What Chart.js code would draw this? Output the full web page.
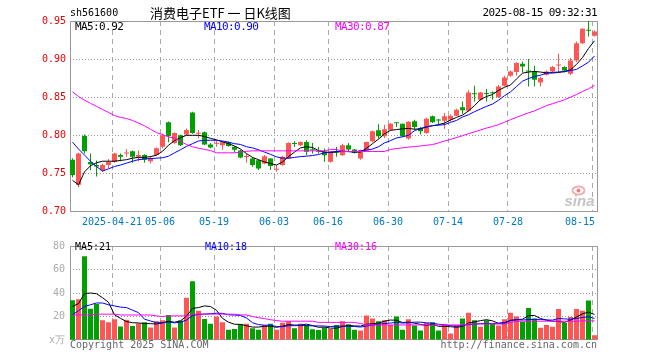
<!DOCTYPE html>
<html><head><meta charset="utf-8">
<script src="https://cdn.jsdelivr.net/npm/chart.js@4.4.1/dist/chart.umd.min.js"></script>
<style>
html,body{margin:0;padding:0;background:#fff;}
#wrap{position:relative;width:660px;height:360px;overflow:hidden;background:#fff;}
canvas{position:absolute;left:0;}
.t{position:absolute;white-space:pre;font-family:"DejaVu Sans Mono",monospace;font-size:10px;line-height:12px;color:#000;}
.m{font-size:11px;letter-spacing:-0.6px;line-height:13px;}
</style></head><body>
<div id="wrap">
<canvas id="k" width="660" height="235" style="top:0;width:660px;height:235px"></canvas>
<canvas id="v" width="660" height="125" style="top:235px;width:660px;height:125px"></canvas>
<div class="t" style="left:70px;top:7px;">sh561600</div>
<div class="t" style="left:150px;top:4px;font-family:'Noto Sans CJK SC',sans-serif;font-size:13px;line-height:17px;">消费电子ETF 一 日K线图</div>
<div class="t m" style="right:63px;top:6px;">2025-08-15 09:32:31</div>
<div class="t m" style="left:75px;top:19.5px;color:#000;">MA5:0.92</div>
<div class="t m" style="left:204px;top:19.5px;color:#0000ff;">MA10:0.90</div>
<div class="t m" style="left:335px;top:19.5px;color:#ff00ff;">MA30:0.87</div>
<div class="t" style="left:75px;top:240.5px;color:#000;">MA5:21</div>
<div class="t" style="left:205px;top:240.5px;color:#0000ff;">MA10:18</div>
<div class="t" style="left:335px;top:240.5px;color:#ff00ff;">MA30:16</div>
<div class="t" style="left:70px;top:339px;color:#666;">Copyright 2025 SINA.COM</div>
<div class="t" style="right:63px;top:339px;color:#666;">http://finance.sina.com.cn</div>
</div>
<script>
// ---------- data ----------
const tradeDays = ['04-10','04-11','04-14','04-15','04-16','04-17','04-18','04-21','04-22','04-23','04-24','04-25','04-28','04-29','04-30',
'05-06','05-07','05-08','05-09','05-12','05-13','05-14','05-15','05-16','05-19','05-20','05-21','05-22','05-23','05-26','05-27','05-28','05-29','05-30',
'06-03','06-04','06-05','06-06','06-09','06-10','06-11','06-12','06-13','06-16','06-17','06-18','06-19','06-20','06-23','06-24','06-25','06-26','06-27','06-30',
'07-01','07-02','07-03','07-04','07-07','07-08','07-09','07-10','07-11','07-14','07-15','07-16','07-17','07-18','07-21','07-22','07-23','07-24','07-25','07-28','07-29','07-30','07-31',
'08-01','08-04','08-05','08-06','08-07','08-08','08-11','08-12','08-13','08-14','08-15'];
const tickDays = ['04-21','05-06','05-19','06-03','06-16','06-30','07-14','07-28','08-15'];
const tickLabels = ['2025-04-21','05-06','05-19','06-03','06-16','06-30','07-14','07-28','08-15'];
const priceTicks = [0.70,0.75,0.80,0.85,0.90,0.95];
const volTicks = [0,20,40,60,80];

const openP = [.768,.735,.799,.765,.761,.754,.761,.765,.774,.776,.779,.772,.774,.766,.774,.785,.817,.790,.800,.801,
.830,.802,.804,.788,.789,.787,.791,.785,.780,.7715,.7696,.7674,.763,.7696,.7548,.7609,.7696,.7891,.787,.7913,
.7808,.7787,.7783,.7652,.7787,.7739,.787,.7813,.7696,.7804,.7922,.8065,.7987,.8074,.8162,.8153,.7957,.8183,.8096,.8030,
.8249,.8197,.8192,.8205,.8258,.8367,.8323,.8544,.8467,.8544,.8555,.8502,.8651,.8782,.8830,.8939,.8840,.8838,.8694,.8795,
.8838,.8915,.8895,.8808,.8983,.9209,.9378,.9305];
const highP = [.770,.777,.801,.776,.767,.763,.769,.777,.776,.782,.780,.780,.775,.773,.784,.802,.818,.804,.801,.809,
.831,.807,.805,.790,.793,.792,.792,.786,.781,.776,.771,.768,.774,.770,.7609,.773,.791,.7926,.792,.7935,
.790,.7848,.7826,.779,.7848,.789,.790,.782,.781,.792,.806,.8144,.8139,.816,.8165,.8155,.8183,.8205,.811,.823,
.826,.8214,.8293,.8275,.835,.8445,.859,.865,.857,.8607,.8576,.866,.878,.885,.896,.897,.900,.8913,.8773,.885,
.891,.907,.8905,.9013,.9231,.9406,.950,.9375];
const lowP = [.745,.732,.776,.754,.746,.752,.757,.764,.766,.772,.764,.766,.764,.763,.773,.783,.791,.789,.786,.799,
.802,.796,.787,.783,.785,.781,.785,.778,.770,.764,.7587,.7543,.762,.7543,.7522,.760,.769,.7848,.786,.7739,
.7761,.7761,.7652,.764,.7717,.773,.7783,.776,.768,.779,.791,.7957,.7965,.806,.8109,.798,.794,.8074,.8009,.802,
.816,.814,.8087,.818,.825,.828,.831,.8445,.845,.8445,.8467,.849,.864,.877,.8785,.8825,.8642,.8642,.8642,.8785,
.8825,.8817,.8825,.879,.8961,.9195,.9297,.9297];
const closeP = [.748,.776,.779,.762,.759,.761,.765,.776,.772,.777,.772,.774,.768,.770,.783,.800,.799,.803,.787,.807,
.803,.803,.788,.784,.790,.791,.786,.781,.771,.772,.7609,.7565,.7726,.7596,.7553,.7717,.790,.7887,.7913,.7783,
.7804,.7783,.7739,.7783,.7774,.787,.7813,.7769,.7804,.7913,.8052,.7987,.8078,.8152,.8157,.7987,.8178,.8109,.8052,.8218,
.8170,.8193,.8249,.8258,.8336,.8328,.8563,.854,.8563,.8541,.8552,.8642,.876,.8838,.8948,.8904,.8838,.8729,.8751,.8838,
.8895,.8917,.8852,.8983,.9209,.9397,.9372,.9362];
const ma5P = [.741,.735,.752,.760,.764,.766,.766,.766,.767,.768,.770,.771,.771,.772,.774,.779,.787,.793,.797,.800,
.800,.800,.7985,.796,.794,.7915,.789,.786,.782,.776,.771,.768,.765,.763,.761,.765,.772,.778,.7835,.785,
.784,.780,.778,.7775,.778,.779,.779,.778,.778,.783,.789,.795,.802,.8065,.8075,.8085,.809,.808,.8085,.811,
.8125,.814,.816,.820,.8235,.8265,.832,.839,.847,.851,.8535,.859,.863,.866,.874,.8815,.883,.8838,.883,.882,
.8817,.8825,.8838,.886,.893,.902,.914,.924];
const ma10P = [.791,.782,.774,.766,.759,.753,.756,.759,.761,.7635,.766,.768,.769,.7695,.770,.7705,.7725,.777,.781,.7855,
.789,.7925,.7935,.7935,.7935,.7925,.791,.789,.788,.785,.7835,.781,.778,.775,.7717,.770,.770,.771,.772,.7726,
.7735,.7748,.777,.778,.779,.779,.7785,.778,.7795,.7805,.782,.785,.790,.793,.7965,.798,.800,.806,.809,.811,
.8127,.8133,.814,.817,.8195,.824,.827,.831,.8345,.838,.841,.846,.852,.857,.864,.871,.8745,.877,.879,.8815,
.8825,.883,.8835,.885,.8865,.891,.896,.904];
const ma30P = [.857,.851,.846,.842,.838,.834,.830,.826,.8235,.822,.8195,.816,.8125,.808,.8035,.801,.798,.796,.792,.788,
.785,.783,.7815,.780,.777,.777,.777,.777,.778,.779,.7796,.7796,.7796,.7796,.7796,.7796,.7796,.7796,.7796,.7796,
.7796,.7796,.7796,.7815,.7815,.7787,.7787,.7787,.7787,.7787,.7787,.7787,.7787,.7815,.7825,.7835,.7845,.7852,.786,.787,
.7878,.790,.7925,.7945,.797,.7995,.802,.8045,.807,.8095,.8115,.814,.817,.8205,.8235,.8265,.8295,.832,.8355,.839,
.8415,.844,.8465,.850,.8535,.8575,.861,.8655];

const volume = [33.9,34.7,71.2,26.7,30.7,16.8,15.2,17.6,11.5,17.3,
12,14.1,15.2,10.7,16,16.8,21.3,10.7,16.5,36,
49.9,24.8,17.9,13.9,20,15.2,8.8,9.3,13.3,13.9,
9.9,8.8,12.5,13.9,8.8,14.7,16,9.9,13.9,12.8,
9.1,8.5,10.7,9.3,12.8,16,13.3,8.8,8,20.8,
18.4,16,16.8,12.8,20,8.8,17.6,12.3,8,14.7,
15.2,8,12.8,5.6,12.8,18.4,23.2,16.8,11.2,16.8,
13.6,12.3,17.6,23.2,20,15.5,27.2,18.4,10.4,12.8,
11.2,26.4,14.4,19.5,26.4,24.8,33.6,4];
const ma5V = [28.5,31,39.5,40,39.4,36,32.1,21.4,18.4,15.7,
14.7,14.5,14,13.9,13.6,14.6,16,15.1,16.3,20.3,
26.9,27.6,29,28.5,25.3,18.4,15.2,13.4,13.3,12.1,
11,11,11.7,11.8,10.8,11.7,13.2,12.7,12.7,13.5,
12.3,10.8,11,10.1,10.1,11.5,12.4,12,11.8,13.4,
13.9,14.4,16,17,16.8,14.9,15.2,14.3,13.3,12.3,
13.6,11.6,11.7,11.3,10.9,11.5,14.6,15.4,16.5,17.3,
16.3,14.1,14.3,16.7,17.3,17.7,20.7,20.9,18.3,16.9,
16,15.8,15,16.9,19.6,22.3,23.7,21.7];
const ma10V = [21.5,25,28.5,30,31.5,31.5,30,29,28,27.6,
25.4,23.3,17.7,16.2,14.7,14.7,15.3,14.6,15.1,17,
20.8,21.8,22.1,22.4,22.8,22.7,21.4,21.2,20.9,18.7,
14.7,13.1,12.6,12.6,11.5,11.4,12.1,12.2,12.3,12.2,
12,12,11.9,11.4,11.8,11.9,11.6,11.5,11,11.8,
12.7,13.4,14,14.4,15.1,14.4,14.8,15.2,15.2,14.6,
14.3,13.4,13,12.3,11.6,12.6,13.1,13.6,13.9,14.1,
13.9,14.4,14.9,16.6,17.3,17,17.4,17.6,17.5,17.1,
16.9,18.3,18,17.6,18.3,19.2,19.8,18.4];
const ma30V = [21.3,21.3,21.3,21.3,22,22,22,22,21.3,21.3,
21.3,21.3,21.3,21.3,20.5,20,20.5,20.5,20.5,20.5,
22,22,22,22,22,22,22,22,21.3,21.3,
20,19,18.2,17.3,16.5,16,16,16,16,16,
16,15,15,15,15,15,15,15,14,12.8,
12.8,12.8,12.8,12.8,12.8,12.8,12.8,12.8,12.8,12.8,
12.8,12.8,12.8,12.8,12.8,12.8,13.6,13.6,13.6,13.6,
13.6,13.6,13.6,14.7,16,16,16,16,16,16,
16,16,16,16,16,16.3,16.3,16.3];

// ---------- styling ----------
const UP = '#ff5555', DOWN = '#00a000';
const MONO = 'DejaVu Sans Mono';
const SLOT = 6;           // px per trading day
const BODY = 5;           // candle body width px
const EDGE = (BODY / 2) / SLOT; // grid line sits on left edge of body

const idx = tradeDays.map((d, i) => i);
const barColor = idx.map(i => closeP[i] >= openP[i] ? UP : DOWN);
const tickPos = tickDays.map(d => tradeDays.indexOf(d) - EDGE);

function xAxis(showLabels, h) {
  return {
    type: 'linear', min: -EDGE, max: 87.5, offset: false,
    afterBuildTicks: s => { s.ticks = tickPos.map(v => ({ value: v })); },
    ticks: {
      display: showLabels, autoSkip: false, maxRotation: 0, minRotation: 0, padding: 5,
      color: '#0078c8', font: { family: MONO, size: 10 },
      // last label is pulled inside the frame (padded on its right side)
      callback: (v, i) => i === tickLabels.length - 1 ? tickLabels[i] + '    ' : tickLabels[i]
    },
    grid: { color: '#aaaaaa', lineWidth: 1, drawTicks: false, offset: false },
    border: { display: false, dash: [5, 4] },
    afterFit: s => { s.height = h; }
  };
}

const frame = {
  id: 'frame',
  beforeDatasetsDraw(chart, args, opts) {
    const { ctx, chartArea: a } = chart;
    ctx.save();
    if (opts.logo) {
      const x = a.right - 33, y = a.bottom - 6;
      ctx.strokeStyle = '#f3b0b0'; ctx.lineWidth = 2;
      ctx.beginPath(); ctx.ellipse(x + 14, y - 15, 6, 4, 0, 0, Math.PI * 2); ctx.stroke();
      ctx.fillStyle = '#f08080'; ctx.beginPath(); ctx.arc(x + 14, y - 15, 2, 0, Math.PI * 2); ctx.fill();
      ctx.font = 'italic bold 15px "Liberation Sans", sans-serif';
      ctx.fillStyle = '#c4c4c4'; ctx.textBaseline = 'alphabetic';
      ctx.fillText('sina', x, y);
    }
    const l = Math.round(a.left), t = Math.round(a.top), r = Math.round(a.right), b = Math.round(a.bottom);
    ctx.strokeStyle = '#999999'; ctx.lineWidth = 1;
    ctx.strokeRect(l + 0.5, t + 0.5, r - l - 1, b - t - 1);
    ctx.restore();
  }
};

const line = (data, color) => ({
  type: 'line', data: idx.map(i => ({ x: i, y: data[i] })), borderColor: color, borderWidth: 1,
  pointRadius: 0, tension: 0, order: 0, clip: false
});

// ---------- price chart ----------
new Chart(document.getElementById('k'), {
  type: 'bar',
  data: { datasets: [
    { data: idx.map(i => ({ x: i, y: [lowP[i], highP[i]] })), backgroundColor: barColor, barThickness: 1,
      grouped: false, order: 2, minBarLength: 1, inflateAmount: 0, borderWidth: 0 },
    { data: idx.map(i => ({ x: i, y: [openP[i], closeP[i]] })), backgroundColor: barColor, barThickness: BODY,
      grouped: false, order: 1, minBarLength: 1, inflateAmount: 0, borderWidth: 0 },
    line(ma30P, '#ff00ff'), line(ma10P, '#0000ff'), line(ma5P, '#000000')
  ] },
  options: {
    responsive: false, animation: false, devicePixelRatio: 1,
    layout: { padding: { top: 21, right: 62.5, bottom: 0, left: 0 } },
    plugins: { legend: { display: false }, tooltip: { enabled: false }, frame: { logo: true } },
    scales: {
      x: xAxis(true, 23.5),
      y: {
        min: 0.70, max: 0.95,
        afterBuildTicks: s => { s.ticks = priceTicks.map(v => ({ value: v })); },
        ticks: { callback: v => v.toFixed(2), color: '#ee0000', font: { family: MONO, size: 10 }, padding: 4 },
        grid: { drawTicks: false, color: c => (c.tick && (c.tick.value < 0.701 || c.tick.value > 0.949)) ? 'rgba(0,0,0,0)' : '#999999' },
        border: { display: false, dash: [1, 2] },
        afterFit: s => { s.width = 70; }
      }
    }
  },
  plugins: [frame]
});

// ---------- volume chart ----------
new Chart(document.getElementById('v'), {
  type: 'bar',
  data: { datasets: [
    { data: idx.map(i => ({ x: i, y: volume[i] })), backgroundColor: barColor, barThickness: BODY,
      grouped: false, order: 1, inflateAmount: 0, borderWidth: 0 },
    line(ma30V, '#ff00ff'), line(ma10V, '#0000ff'), line(ma5V, '#000000')
  ] },
  options: {
    responsive: false, animation: false, devicePixelRatio: 1,
    layout: { padding: { top: 5, right: 62.5, bottom: 20, left: 0 } },
    plugins: { legend: { display: false }, tooltip: { enabled: false }, frame: { logo: false } },
    scales: {
      x: xAxis(false, 0),
      y: {
        min: 0, max: 80,
        afterBuildTicks: s => { s.ticks = volTicks.map(v => ({ value: v })); },
        ticks: { callback: v => v === 0 ? 'x万' : String(v), color: '#aaaaaa', font: { family: MONO, size: 10 }, padding: 5 },
        grid: { drawTicks: false, color: c => (c.tick && (c.tick.value === 0 || c.tick.value === 80)) ? 'rgba(0,0,0,0)' : '#999999' },
        border: { display: false, dash: [1, 2] },
        afterFit: s => { s.width = 70; }
      }
    }
  },
  plugins: [frame]
});
</script>
</body></html>
